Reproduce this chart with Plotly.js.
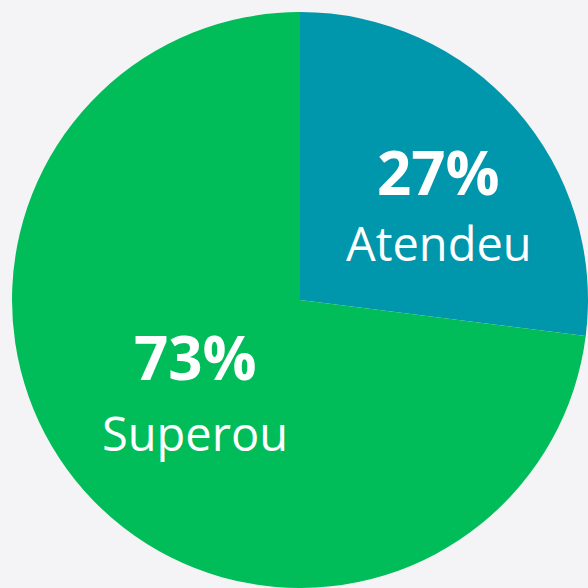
<!DOCTYPE html>
<html>
<head>
<meta charset="utf-8">
<script src="https://cdn.plot.ly/plotly-3.0.1.min.js"></script>
<style>html,body{margin:0;padding:0;background:#f4f3f5;}#chart{width:588px;height:588px;}</style>
</head>
<body>
<div id="chart"></div>
<script>
const labels = ["Atendeu", "Superou"];
const values = [27, 73];
const colors = ["#0096ab", "#00bd5a"];

// label positions (pixels in 588x588 canvas) – layout only
const pctPos = [[438, 172], [195, 357]];
const lblPos = [[439, 243], [195, 433]];

const total = values.reduce((a, b) => a + b, 0);
const W = 588, H = 588;
const annotations = [];
labels.forEach((lab, i) => {
  const pct = Math.round(values[i] / total * 100) + "%";
  annotations.push({
    xref: "paper", yref: "paper",
    x: pctPos[i][0] / W, y: 1 - pctPos[i][1] / H,
    xanchor: "center", yanchor: "middle",
    text: "<b>" + pct + "</b>", showarrow: false,
    font: {family: "Open Sans", size: 60, color: "#ffffff"}
  });
  annotations.push({
    xref: "paper", yref: "paper",
    x: lblPos[i][0] / W, y: 1 - lblPos[i][1] / H,
    xanchor: "center", yanchor: "middle",
    text: lab, showarrow: false,
    font: {family: "Open Sans", size: 47, color: "#ffffff"}
  });
});

const trace = {
  type: "pie",
  labels: labels,
  values: values,
  sort: false,
  direction: "clockwise",
  rotation: 0,
  textinfo: "none",
  hoverinfo: "label+percent",
  marker: {colors: colors, line: {width: 0}},
  domain: {x: [12 / W, 588 / W], y: [0 / H, 576 / H]}
};

const layout = {
  width: W, height: H,
  margin: {l: 0, r: 0, t: 0, b: 0},
  paper_bgcolor: "#f4f3f5",
  plot_bgcolor: "#f4f3f5",
  showlegend: false,
  annotations: annotations
};

Plotly.newPlot("chart", [trace], layout, {displayModeBar: false, staticPlot: true});
</script>
</body>
</html>
